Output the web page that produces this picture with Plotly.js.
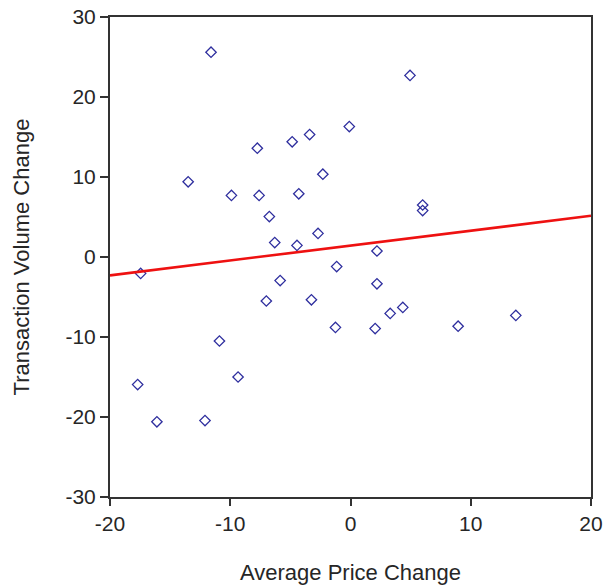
<!DOCTYPE html>
<html>
<head>
<meta charset="utf-8">
<script src="https://cdn.plot.ly/plotly-3.0.1.min.js"></script>
<style>html,body{margin:0;padding:0;background:#fff;}#chart{width:603px;height:585px;}</style>
</head>
<body>
<div id="chart"></div>
<script>
// Scatter data: average price change (x) vs transaction volume change (y)
const priceChange = [-11.6, 4.95, -13.5, -7.75, -4.85, -3.4, -0.1, -9.9, -7.6, -4.3,
  -2.3, -6.75, -6.3, -4.45, -2.7, 6.0, 6.0, 2.2, -17.45, -5.85,
  -1.15, 2.2, -7.0, -3.25, -1.25, 2.05, 3.3, 4.35, 8.95, 13.75,
  -10.9, -9.35, -17.7, -16.1, -12.1];
const volumeChange = [25.6, 22.7, 9.4, 13.6, 14.4, 15.3, 16.3, 7.7, 7.7, 7.9,
  10.35, 5.05, 1.8, 1.45, 2.95, 6.5, 5.8, 0.75, -2.05, -2.95,
  -1.2, -3.35, -5.5, -5.35, -8.8, -8.95, -7.05, -6.3, -8.65, -7.3,
  -10.5, -15.0, -15.95, -20.6, -20.45];
// Fitted regression line endpoints
const fitX = [-20, 20];
const fitY = [-2.3, 5.15];
const xTicks = [-20, -10, 0, 10, 20];
const yTicks = [-30, -20, -10, 0, 10, 20, 30];

const font = {family: 'Liberation Sans, Arial, sans-serif', color: '#262626'};

const traces = [
  {
    x: priceChange, y: volumeChange, type: 'scatter', mode: 'markers',
    marker: {symbol: 'diamond-open', size: 8, color: '#2e2e9e', line: {width: 1.3, color: '#2e2e9e'}},
    hoverinfo: 'x+y', showlegend: false
  },
  {
    x: fitX, y: fitY, type: 'scatter', mode: 'lines',
    line: {color: '#ee1111', width: 2.6}, showlegend: false
  }
];

const layout = {
  width: 603, height: 585,
  margin: {l: 110, r: 12, t: 17, b: 88},
  paper_bgcolor: '#fff', plot_bgcolor: '#fff',
  showlegend: false,
  font: Object.assign({size: 21}, font),
  xaxis: {
    range: [-20, 20], tickvals: xTicks, ticktext: xTicks.map(String),
    showgrid: false, zeroline: false,
    showline: true, mirror: true, linecolor: '#333', linewidth: 2,
    ticks: 'outside', ticklen: 7, tickwidth: 2, tickcolor: '#333',
    tickfont: Object.assign({size: 21}, font),
    title: {text: 'Average Price Change', font: Object.assign({size: 22}, font), standoff: 30}
  },
  yaxis: {
    range: [-30, 30], tickvals: yTicks, ticktext: yTicks.map(String),
    showgrid: false, zeroline: false,
    showline: true, mirror: true, linecolor: '#333', linewidth: 2,
    ticks: 'outside', ticklen: 8, tickwidth: 2, tickcolor: '#333',
    tickfont: Object.assign({size: 21}, font),
    title: {text: 'Transaction Volume Change', font: Object.assign({size: 22}, font), standoff: 30}
  }
};

Plotly.newPlot('chart', traces, layout, {displayModeBar: false, staticPlot: true});
</script>
</body>
</html>
